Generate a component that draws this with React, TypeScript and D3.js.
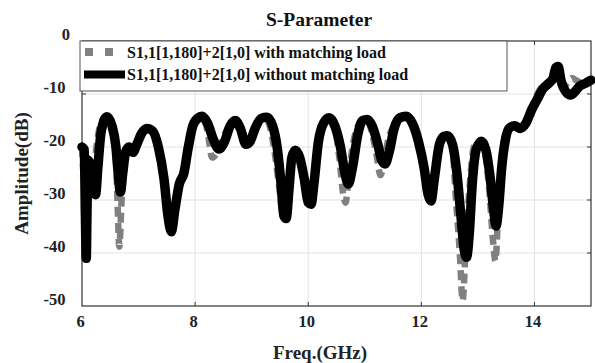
import React from "react";
import * as d3 from "d3";

const title = "S-Parameter";
const xLabel = "Freq.(GHz)";
const yLabel = "Amplitude(dB)";
const xTicks = [6, 8, 10, 12, 14];
const yTicks = [0, -10, -20, -30, -40, -50];
const seriesNames = [
  "S1,1[1,180]+2[1,0] with matching load",
  "S1,1[1,180]+2[1,0] without matching load",
];

// without matching load (black)
const freqB = [
  6.0, 6.04, 6.06, 6.075, 6.09, 6.11, 6.15, 6.2, 6.24, 6.28, 6.34, 6.44, 6.53, 6.6, 6.64, 6.68, 6.72, 6.77, 6.83, 6.9,
  6.97, 7.05, 7.15, 7.25, 7.35, 7.45, 7.52, 7.58, 7.64, 7.72, 7.8, 7.88, 7.96, 8.05, 8.12, 8.22, 8.32, 8.42,
  8.52, 8.62, 8.71, 8.8, 8.9, 8.97, 9.06, 9.17, 9.27, 9.37, 9.45, 9.52, 9.57, 9.61, 9.66, 9.71, 9.77, 9.85,
  9.93, 10.0, 10.05, 10.1, 10.18, 10.27, 10.37, 10.47, 10.57, 10.65, 10.71, 10.78, 10.88, 10.96, 11.04, 11.13,
  11.23, 11.3, 11.36, 11.43, 11.52, 11.62, 11.73, 11.84, 11.95, 12.05, 12.12, 12.17, 12.23, 12.32, 12.4,
  12.46, 12.55, 12.63, 12.7, 12.76, 12.8, 12.85, 12.9, 12.97, 13.06, 13.14, 13.22, 13.28, 13.32, 13.37,
  13.42, 13.48, 13.55, 13.65, 13.75, 13.85, 13.95, 14.05, 14.15, 14.25, 14.33, 14.38, 14.42, 14.47, 14.55,
  14.64, 14.72, 14.8, 14.9, 15.0,
];
const dbB = [
  -20, -20.5, -33, -41, -31, -22.5, -23.5, -27, -29, -24, -17, -14.3, -16, -20, -25, -28.5, -25, -21, -20, -21,
  -19.5, -17.5, -16.5, -17, -20, -26, -33, -36, -32, -27, -25, -20, -16, -14.5, -14.2, -15.5, -18.5, -20.4,
  -19, -16, -15, -16.5, -19.5, -19, -16.5, -14.6, -14.4, -16, -20, -27, -33, -33.5, -28, -22, -20.6, -22,
  -26, -30.5, -30.8, -27, -19, -15.5, -14.5, -16, -20, -25, -27, -24, -17.5, -15, -14.8, -16,
  -19.5, -22.5, -23.2, -21, -16.5, -14.5, -14.2, -15.5, -19, -24, -29, -30.2, -26, -19.5, -18,
  -17.9, -19.5, -25, -33, -39.5, -40.8, -36, -27, -20.5, -18.9, -20.5, -26, -32, -34.9, -31,
  -24, -19, -16.5, -16, -16.5, -15.5, -13, -11, -9, -8, -7, -5, -4.8, -7.5, -9.5,
  -10.2, -9.5, -8.5, -8, -7.4,
];

// with matching load (gray dashed)
const freqG = [
  6.0, 6.04, 6.08, 6.12, 6.16, 6.2, 6.28, 6.36, 6.45, 6.54, 6.6, 6.63, 6.66, 6.7, 6.76, 6.82, 6.9,
  6.97, 7.05, 7.15, 7.25, 7.35, 7.45, 7.52, 7.58, 7.64, 7.72, 7.8, 7.88, 7.96, 8.05, 8.12, 8.22, 8.3, 8.36,
  8.45, 8.55, 8.62, 8.71, 8.8, 8.9, 8.97, 9.06, 9.17, 9.27, 9.36, 9.42, 9.48, 9.55, 9.6, 9.66, 9.71, 9.77,
  9.85, 9.93, 10.0, 10.05, 10.1, 10.18, 10.27, 10.37, 10.47, 10.55, 10.62, 10.66, 10.72, 10.8, 10.88, 10.96,
  11.04, 11.12, 11.2, 11.28, 11.35, 11.43, 11.52, 11.62, 11.73, 11.84, 11.95, 12.05, 12.11, 12.16, 12.22,
  12.32, 12.4, 12.46, 12.55, 12.6, 12.68, 12.73, 12.78, 12.85, 12.93, 13.02, 13.1, 13.2, 13.27, 13.31,
  13.36, 13.42, 13.48, 13.55, 13.65, 13.75, 13.85, 13.95, 14.05, 14.2, 14.3, 14.4, 14.5, 14.58, 14.66,
  14.75, 14.85, 15.0,
];
const dbG = [
  -20, -26, -22, -23, -27, -25, -18, -15, -14.8, -16.5, -22, -31, -38.8, -30, -22, -20, -21,
  -19.5, -17.5, -16.5, -17, -20, -26, -33, -35, -32, -27, -25, -20, -16, -15, -14.6, -17, -22, -21.5,
  -19.5, -17, -16, -15.2, -16.5, -19.5, -19, -16.5, -14.8, -15, -18, -22, -27, -32, -32, -27, -22, -20.8,
  -22, -26, -30.5, -30.8, -27, -19, -15.5, -14.8, -16.5, -22, -29, -30.5, -25, -19, -16, -15,
  -15, -17, -21, -25.3, -22, -18, -16, -14.8, -14.5, -15.5, -19, -24, -29, -30.2, -26,
  -19.5, -18, -18, -20, -28, -40, -49, -40, -28, -20, -19, -20, -28, -38, -41.5,
  -32, -22, -18, -16.5, -16, -16.3, -15, -12.5, -10, -8, -7.5, -7.5, -8.5, -8, -7,
  -7.5, -8, -7.5,
];

const W = 595;
const H = 363;
const left = 82;
const right = 591;
const top = 41;
const bottom = 306;
const font = "'Liberation Serif', 'Times New Roman', serif";

export default function App() {
  const x = d3.scaleLinear().domain([6, 15]).range([left, right]);
  const y = d3.scaleLinear().domain([-50, 0]).range([bottom, top]);
  const line = d3
    .line<[number, number]>()
    .x((d) => x(d[0]))
    .y((d) => y(d[1]))
    .curve(d3.curveMonotoneX);
  const black = line(freqB.map((f, i) => [f, dbB[i]] as [number, number])) || "";
  const gray = line(freqG.map((f, i) => [f, dbG[i]] as [number, number])) || "";
  const innerX = xTicks.filter((t) => t > 6);
  const innerY = yTicks.filter((t) => t < 0 && t > -50);

  return (
    <svg
      width={W}
      height={H}
      style={{ position: "absolute", left: 0, top: 0, background: "#fff" }}
      fontFamily={font}
      fontWeight="bold"
    >
      <rect x={0} y={0} width={W} height={H} fill="#fff" />
      {/* grid */}
      {innerX.map((t) => (
        <line key={"gx" + t} x1={x(t)} x2={x(t)} y1={top} y2={bottom} stroke="#e3e3e3" strokeWidth={1} />
      ))}
      {innerY.map((t) => (
        <line key={"gy" + t} x1={left} x2={right} y1={y(t)} y2={y(t)} stroke="#e3e3e3" strokeWidth={1} />
      ))}
      {/* axes box */}
      <rect x={left} y={top} width={right - left} height={bottom - top} fill="none" stroke="#333" strokeWidth={1.2} />
      {innerX.map((t) => (
        <g key={"tx" + t}>
          <line x1={x(t)} x2={x(t)} y1={bottom} y2={bottom - 4} stroke="#333" />
          <line x1={x(t)} x2={x(t)} y1={top} y2={top + 4} stroke="#333" />
        </g>
      ))}
      {innerY.map((t) => (
        <g key={"ty" + t}>
          <line x1={left} x2={left + 4} y1={y(t)} y2={y(t)} stroke="#333" />
          <line x1={right} x2={right - 4} y1={y(t)} y2={y(t)} stroke="#333" />
        </g>
      ))}
      {/* tick labels */}
      {xTicks.map((t) => (
        <text key={"lx" + t} x={x(t) - 1.5} y={321} dy="0.35em" textAnchor="middle" fontSize={16.5} fill="#222">
          {t}
        </text>
      ))}
      {yTicks.map((t) => (
        <text
          key={"ly" + t}
          x={t === 0 ? 70 : 65.5}
          y={y(t) - 6.5}
          dy="0.35em"
          textAnchor="end"
          fontSize={16.5}
          fill="#222"
        >
          {t}
        </text>
      ))}
      {/* curves */}
      <path d={gray} fill="none" stroke="#808080" strokeWidth={6.5} strokeDasharray="10,6" />
      <path d={black} fill="none" stroke="#000" strokeWidth={9.5} strokeLinejoin="round" strokeLinecap="round" />
      {/* legend */}
      <rect x={80} y={41} width={427} height={50} fill="#fff" stroke="#555" strokeWidth={1} />
      <line x1={85} x2={117} y1={52} y2={52} stroke="#808080" strokeWidth={8} strokeDasharray="8,12" />
      <line x1={84} x2={125} y1={74.5} y2={74.5} stroke="#000" strokeWidth={8} />
      <text x={127} y={52} dy="0.35em" fontSize={16} fill="#111">
        {seriesNames[0]}
      </text>
      <text x={127} y={74.5} dy="0.35em" fontSize={16} fill="#111">
        {seriesNames[1]}
      </text>
      {/* titles */}
      <text x={319} y={19} dy="0.35em" textAnchor="middle" fontSize={19.5} fill="#111">
        {title}
      </text>
      <text x={320} y={352} dy="0.35em" textAnchor="middle" fontSize={19} fill="#222">
        {xLabel}
      </text>
      <text
        transform={`translate(21, ${(top + bottom) / 2}) rotate(-90)`}
        dy="0.35em"
        textAnchor="middle"
        fontSize={19}
        fill="#222"
      >
        {yLabel}
      </text>
    </svg>
  );
}
